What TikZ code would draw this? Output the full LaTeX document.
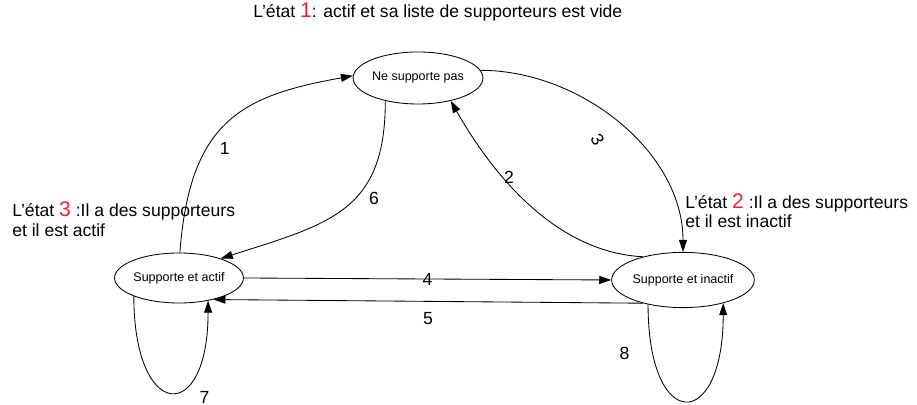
\documentclass[tikz,border=0pt]{standalone}
\usepackage{fontspec}
\setmainfont{Liberation Sans}
\usetikzlibrary{arrows.meta,shapes.geometric}
\definecolor{rouge}{RGB}{222,40,52}

\begin{document}
\begin{tikzpicture}[
    x=0.025cm, y=0.025cm,
    every node/.style={font=\fontsize{12.5}{14.2}\selectfont},
    etat/.style={ellipse, draw, line width=0.6pt, inner sep=0pt,
                 font=\fontsize{8.9}{10}\selectfont},
    fleche/.style={-{Triangle[length=3mm,width=2mm]}, line width=0.6pt},
    legende/.style={align=left, inner sep=0pt, anchor=north west},
    num/.style={inner sep=1pt},
]
    \useasboundingbox (0,0) rectangle (917,405);

    % les trois etats
    \node[etat, minimum width=2.65cm, minimum height=1.3cm] (nesup) at (418,327) {Ne supporte pas};
    \node[etat, minimum width=2.65cm, minimum height=1.25cm] (actif) at (179,127) {Supporte et actif};
    \node[etat, minimum width=2.83cm, minimum height=1.38cm] (inactif) at (683,125) {Supporte et inactif};

    % legendes
    \node[anchor=base west, inner sep=0pt] (leg1) at (253,387)
        {L'état {\color{rouge}\fontsize{15}{15}\selectfont 1}: actif et sa liste de supporteurs est vide};
    \node[legende] (leg3) at (12,203)
        {L'état {\color{rouge}\fontsize{15}{15}\selectfont 3} :Il a des supporteurs\\et il est actif};
    \node[legende] (leg2) at (685,212)
        {L'état {\color{rouge}\fontsize{15}{15}\selectfont 2} :Il a des supporteurs\\et il est inactif};

    % transitions
    \draw[fleche] (actif.88) .. controls +(10,133) and +(-110,-20) ..
        node[num, pos=0.35, xshift=0.45cm]{1} (nesup.178);
    \draw[fleche] (nesup.215) .. controls +(0,-110) and +(110,35) ..
        node[num, pos=0.45, xshift=0.55cm, yshift=0.06cm]{6} (actif.25);
    \draw[fleche] (inactif.150) .. controls +(-90,5) and +(40,-70) ..
        node[num, pos=0.65, xshift=0.2cm, yshift=-0.07cm]{2} (nesup.-35);
    \draw[fleche] (nesup.7) .. controls +(100,0) and +(0,100) ..
        node[num, pos=0.55, xshift=-0.82cm, yshift=-0.15cm, rotate=-60]{3} (inactif.north);
    \draw[fleche] (actif.east) -- node[num, midway]{4} (inactif.west);
    \draw[fleche] (inactif.210) -- node[num, midway, yshift=-0.43cm]{5} (actif.-32);
    \draw[fleche] (actif.202) .. controls +(0,-125) and +(0,-125) ..
        node[num, pos=0.5, xshift=0.84cm, yshift=-0.12cm]{7} (actif.-38);
    \draw[fleche] (inactif.215) .. controls +(0,-129) and +(0,-129) ..
        node[num, pos=0.15, xshift=-0.7cm]{8} (inactif.-30);
\end{tikzpicture}
\end{document}
